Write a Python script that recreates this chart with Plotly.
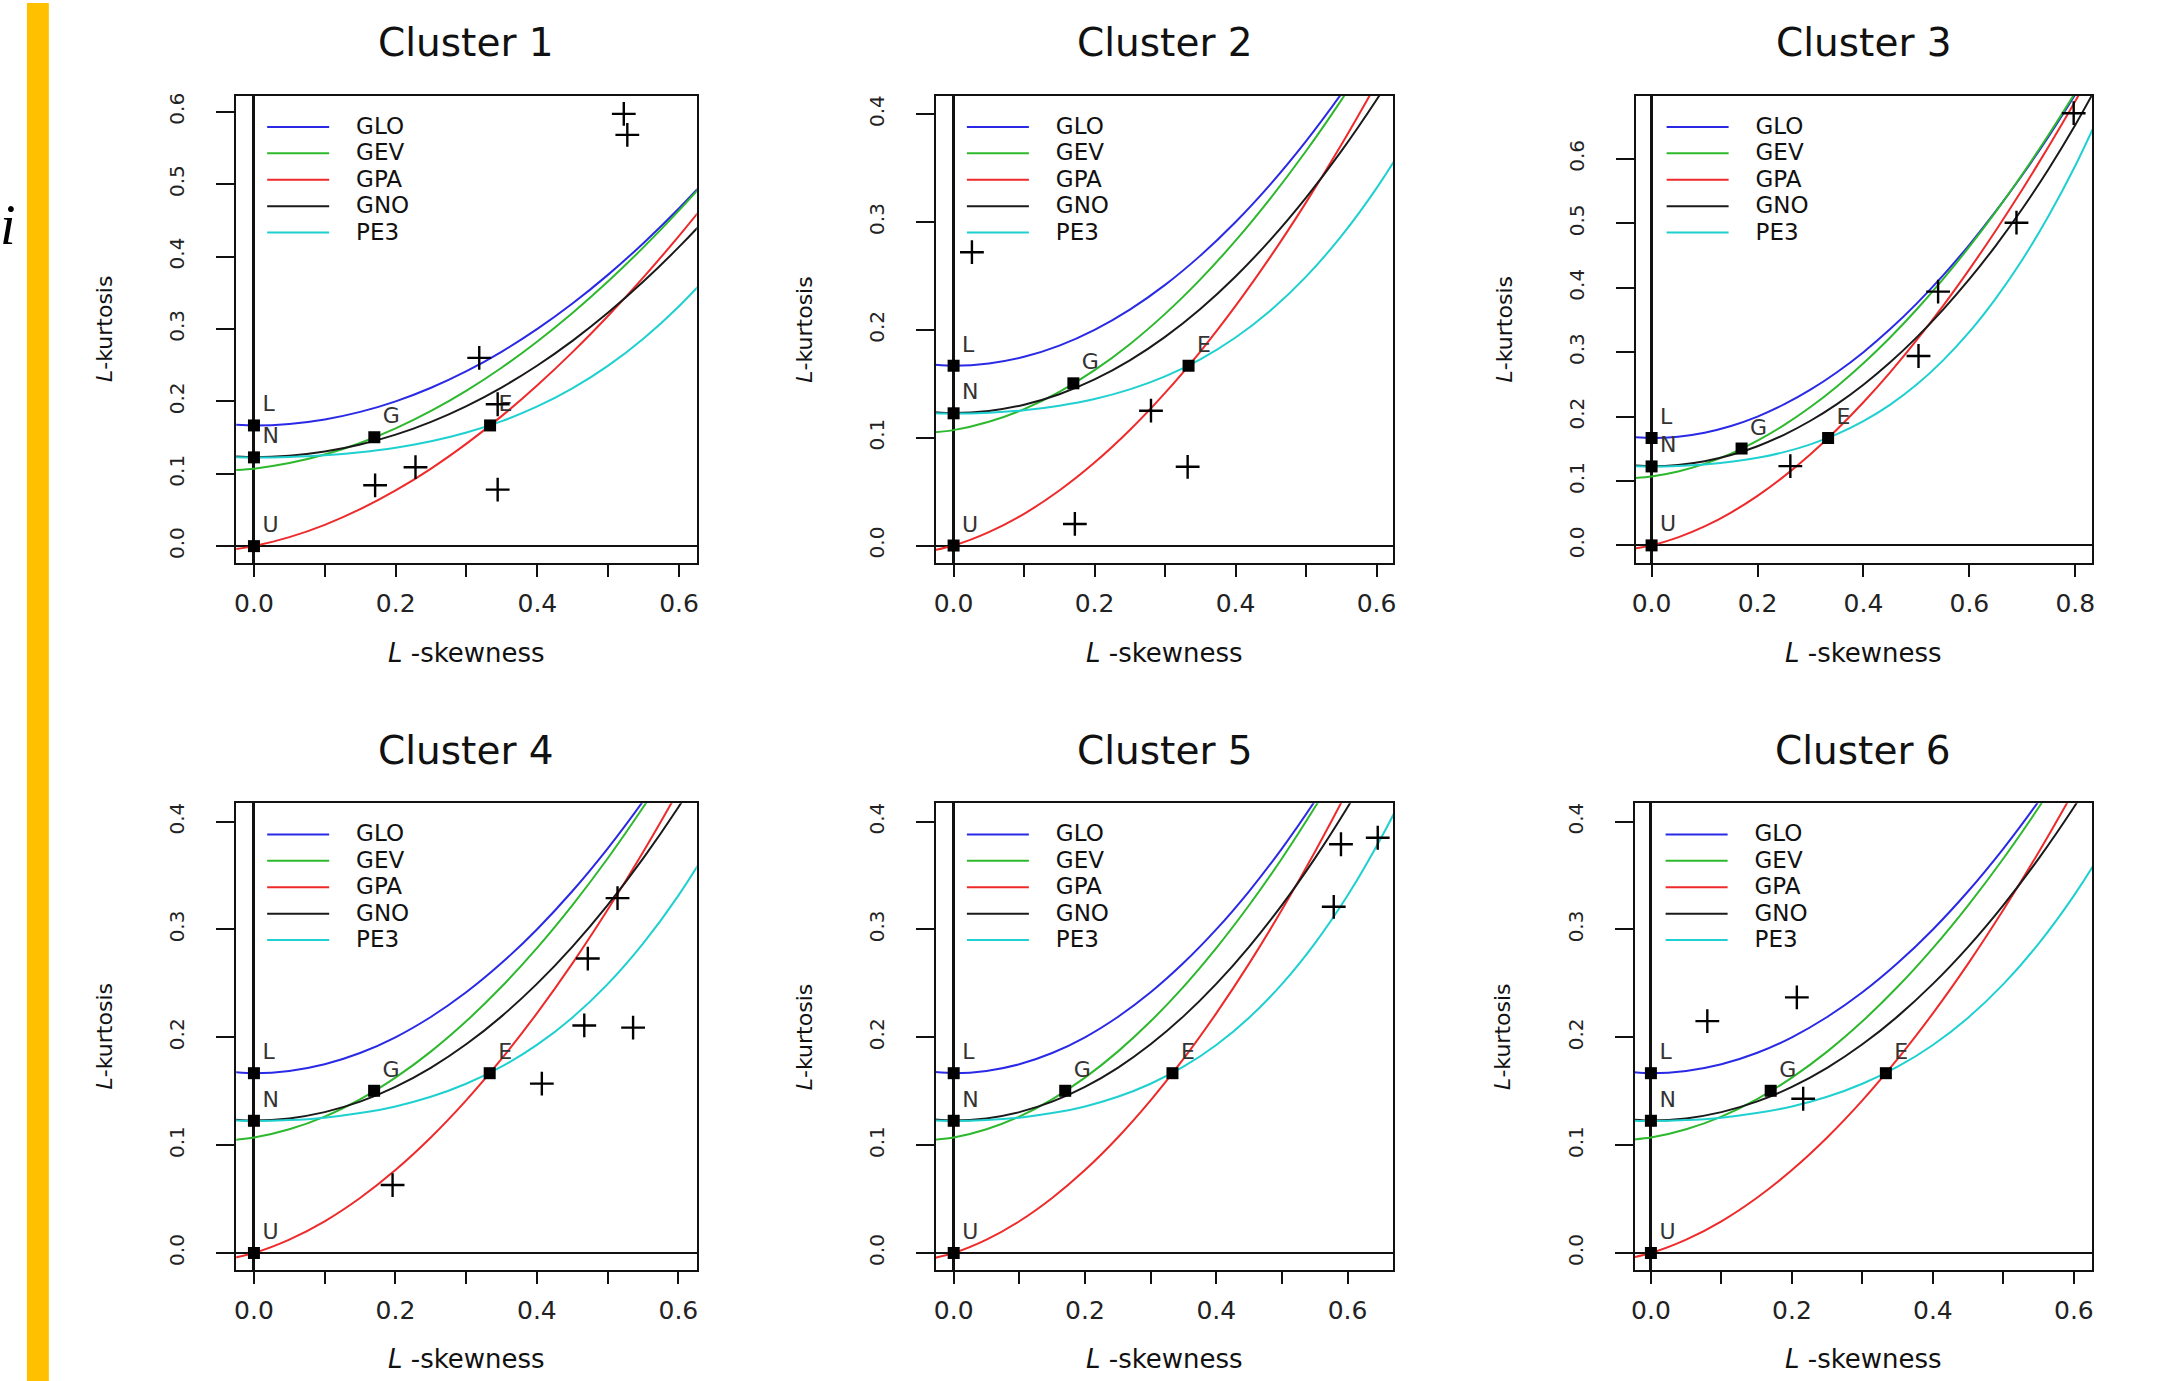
import plotly.graph_objects as go

# ---------------- data ----------------
# theoretical L-moment ratio curves (tau3 grid -> tau4)
tau3_grid = [-0.05, 0.00, 0.05, 0.10, 0.15, 0.20, 0.25, 0.30, 0.35, 0.40,
             0.45, 0.50, 0.55, 0.60, 0.65, 0.70, 0.75, 0.80, 0.85]
glo_t4 = [0.1688, 0.1667, 0.1688, 0.1750, 0.1854, 0.2000, 0.2188, 0.2417, 0.2688, 0.3000,
          0.3354, 0.3750, 0.4188, 0.4667, 0.5188, 0.5750, 0.6354, 0.7000, 0.7688]
gev_t4 = [0.1036, 0.1070, 0.1147, 0.1265, 0.1425, 0.1626, 0.1867, 0.2148, 0.2468, 0.2827,
          0.3224, 0.3658, 0.4130, 0.4638, 0.5181, 0.5762, 0.6378, 0.7029, 0.7718]
gpa_t4 = [-0.0076, 0.0000, 0.0124, 0.0294, 0.0510, 0.0769, 0.1071, 0.1415, 0.1799, 0.2222,
          0.2683, 0.3182, 0.3716, 0.4286, 0.4889, 0.5526, 0.6196, 0.6897, 0.7628]
gno_t4 = [0.1248, 0.1228, 0.1248, 0.1306, 0.1403, 0.1540, 0.1717, 0.1935, 0.2194, 0.2495,
          0.2839, 0.3226, 0.3657, 0.4133, 0.4655, 0.5226, 0.5848, 0.6526, 0.7265]
pe3_t4 = [0.1232, 0.1224, 0.1232, 0.1255, 0.1297, 0.1359, 0.1448, 0.1569, 0.1727, 0.1929,
          0.2182, 0.2493, 0.2869, 0.3314, 0.3836, 0.4435, 0.5121, 0.5894, 0.6761]

curve_names = ["GLO", "GEV", "GPA", "GNO", "PE3"]
curve_values = [glo_t4, gev_t4, gpa_t4, gno_t4, pe3_t4]

# special distribution points
special_names = ["L", "N", "U", "G", "E"]
special_t3 = [0.0, 0.0, 0.0, 0.1699, 0.3333]
special_t4 = [0.1667, 0.1226, 0.0, 0.1504, 0.1667]

# site L-moment ratios for each cluster
cluster_titles = ["Cluster 1", "Cluster 2", "Cluster 3", "Cluster 4", "Cluster 5", "Cluster 6"]
c1_skew = [0.522, 0.527, 0.318, 0.344, 0.171, 0.228, 0.344]
c1_kurt = [0.597, 0.568, 0.260, 0.196, 0.084, 0.109, 0.078]
c2_skew = [0.026, 0.280, 0.332, 0.172]
c2_kurt = [0.272, 0.125, 0.073, 0.020]
c3_skew = [0.797, 0.689, 0.541, 0.504, 0.262]
c3_kurt = [0.671, 0.501, 0.394, 0.294, 0.123]
c4_skew = [0.514, 0.472, 0.467, 0.536, 0.407, 0.196]
c4_kurt = [0.329, 0.273, 0.211, 0.209, 0.157, 0.063]
c5_skew = [0.590, 0.646, 0.579]
c5_kurt = [0.379, 0.385, 0.321]
c6_skew = [0.207, 0.080, 0.216]
c6_kurt = [0.237, 0.215, 0.143]
cluster_skew = [c1_skew, c2_skew, c3_skew, c4_skew, c5_skew, c6_skew]
cluster_kurt = [c1_kurt, c2_kurt, c3_kurt, c4_kurt, c5_kurt, c6_kurt]

# axis ranges / ticks per panel
x_ranges = [[-0.025, 0.625], [-0.025, 0.624], [-0.03, 0.832],
            [-0.025, 0.626], [-0.027, 0.670], [-0.023, 0.626]]
y_ranges = [[-0.023, 0.622], [-0.016, 0.417], [-0.027, 0.698],
            [-0.016, 0.417], [-0.016, 0.417], [-0.016, 0.417]]
x_tickvals = [[0.0, 0.1, 0.2, 0.3, 0.4, 0.5, 0.6]] * 2 + [[0.0, 0.2, 0.4, 0.6, 0.8]] + \
             [[0.0, 0.1, 0.2, 0.3, 0.4, 0.5, 0.6]] * 3
y_tickvals = [[0.0, 0.1, 0.2, 0.3, 0.4, 0.5, 0.6], [0.0, 0.1, 0.2, 0.3, 0.4],
              [0.0, 0.1, 0.2, 0.3, 0.4, 0.5, 0.6]] + [[0.0, 0.1, 0.2, 0.3, 0.4]] * 3

# ---------------- style / layout ----------------
W, H = 2162, 1381
curve_colors = ["#2a2ae6", "#2db82d", "#ee2a2a", "#1a1a1a", "#1fd0d0"]
FONT = "DejaVu Sans"
INK = "#111111"
LEG_PAD = "\u00a0" * 3

# panel boxes in pixels: (left, right, top, bottom)
boxes = [(233, 695, 93, 561), (935, 1394, 93, 561), (1637, 2095, 93, 561),
         (233, 695, 802, 1270), (935, 1394, 802, 1270), (1636, 2095, 802, 1270)]

fig = go.Figure()
layout = dict(width=W, height=H, margin=dict(l=0, r=0, t=0, b=0),
              paper_bgcolor="white", plot_bgcolor="white",
              font=dict(family=FONT, color=INK), annotations=[], shapes=[])

for i in range(6):
    n = i + 1
    xa = "x" if n == 1 else f"x{n}"
    ya = "y" if n == 1 else f"y{n}"
    lg = "legend" if n == 1 else f"legend{n}"
    L, R, T, B = boxes[i]

    for name, vals, col in zip(curve_names, curve_values, curve_colors):
        fig.add_trace(go.Scatter(x=tau3_grid, y=vals, mode="lines",
                                 name=f"<span style='font-size:23px'>{LEG_PAD}{name}</span>",
                                 line=dict(color=col, width=2, shape="spline", smoothing=0.6),
                                 xaxis=xa, yaxis=ya, legend=lg, showlegend=True,
                                 hoverinfo="skip"))
    fig.add_trace(go.Scatter(x=special_t3, y=special_t4, mode="markers+text",
                             text=special_names, textposition="top right",
                             textfont=dict(family=FONT, size=22, color="#333333"),
                             marker=dict(symbol="square", size=12, color="black"),
                             xaxis=xa, yaxis=ya, showlegend=False, cliponaxis=False))
    fig.add_trace(go.Scatter(x=cluster_skew[i], y=cluster_kurt[i], mode="markers",
                             marker=dict(symbol="cross-thin", size=17,
                                         line=dict(width=2.4, color="black")),
                             xaxis=xa, yaxis=ya, showlegend=False))

    xkey = "xaxis" if n == 1 else f"xaxis{n}"
    ykey = "yaxis" if n == 1 else f"yaxis{n}"
    xt = x_tickvals[i]
    layout[xkey] = dict(domain=[L / W, R / W], range=x_ranges[i], anchor=ya,
                        tickvals=xt,
                        ticktext=[f"{v:.1f}" if round(v * 10) % 2 == 0 else "" for v in xt],
                        ticks="outside", ticklen=12, tickwidth=2, tickcolor=INK,
                        showline=True, linecolor=INK, linewidth=2, mirror=True,
                        zeroline=True, zerolinecolor=INK, zerolinewidth=2.5,
                        showgrid=False, ticklabelstandoff=5,
                        tickfont=dict(family=FONT, size=25, color="#222222"))
    layout[ykey] = dict(domain=[1 - B / H, 1 - T / H], range=y_ranges[i], anchor=xa,
                        tickvals=y_tickvals[i], ticktext=[f"{v:.1f}" for v in y_tickvals[i]],
                        tickangle=-90,
                        ticks="outside", ticklen=18, tickwidth=2, tickcolor=INK,
                        showline=True, linecolor=INK, linewidth=2, mirror=True,
                        zeroline=True, zerolinecolor=INK, zerolinewidth=1.5,
                        showgrid=False, ticklabelstandoff=24,
                        tickfont=dict(family=FONT, size=20, color="#222222"))
    layout[lg] = dict(x=(L + 26) / W, y=1 - (T + 13) / H, xanchor="left", yanchor="top",
                      bgcolor="rgba(0,0,0,0)", borderwidth=0, itemwidth=62,
                      font=dict(family=FONT, size=18, color=INK), tracegroupgap=0,
                      itemclick=False, itemdoubleclick=False)

    row1 = n <= 3
    cx = (L + R) / 2 / W
    layout["annotations"].append(dict(text=cluster_titles[i], xref="paper", yref="paper",
                                      x=cx, y=1 - (40 if row1 else 749) / H,
                                      xanchor="center", yanchor="middle", showarrow=False,
                                      font=dict(family=FONT, size=39, color=INK)))
    layout["annotations"].append(dict(text="<i>L</i> -skewness", xref="paper", yref="paper",
                                      x=cx, y=1 - (651 if row1 else 1359) / H,
                                      xanchor="center", yanchor="middle", showarrow=False,
                                      font=dict(family=FONT, size=26, color=INK)))
    layout["annotations"].append(dict(text="<i>L</i>-kurtosis", xref="paper", yref="paper",
                                      x=(L - 132) / W, y=1 - ((T + B) / 2) / H, textangle=-90,
                                      xanchor="center", yanchor="middle", showarrow=False,
                                      font=dict(family=FONT, size=22, color=INK)))

# yellow side bar and cut-off italic letter
layout["shapes"].append(dict(type="rect", xref="paper", yref="paper",
                             x0=23 / W, x1=45 / W, y0=0, y1=1,
                             fillcolor="#FFC000", line=dict(width=0), layer="below"))
layout["annotations"].append(dict(text="<i>i</i>", xref="paper", yref="paper",
                                  x=0, y=1 - 222 / H, xanchor="left", yanchor="middle",
                                  xshift=-6, showarrow=False,
                                  font=dict(family="Liberation Serif", size=56, color="black")))

fig.update_layout(**layout)
fig.write_html("out.html", config={"displayModeBar": False},
               post_script="document.body.style.margin='0';document.body.style.overflow='hidden';")
